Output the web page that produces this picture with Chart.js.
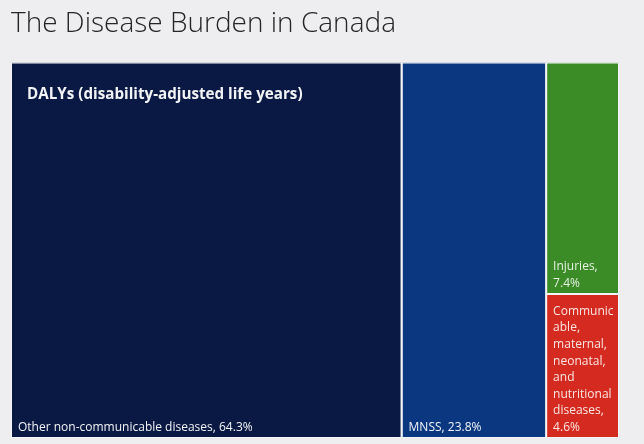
<!DOCTYPE html>
<html>
<head>
<meta charset="utf-8">
<script src="https://cdn.jsdelivr.net/npm/chart.js@4"></script>
<style>
  html, body { margin: 0; padding: 0; background: #eeeef0; }
  #wrap { width: 644px; height: 444px; }
</style>
</head>
<body>
<div id="wrap"><canvas id="chart-dalys"></canvas></div>
<script>
const categories = [
  "Other non-communicable diseases",
  "MNSS",
  "Injuries",
  "Communicable, maternal, neonatal, and nutritional diseases"
];
const values = [64.3, 23.8, 7.4, 4.6];
const columnOf = [0, 1, 2, 2];
const cellColors = ["#0a1943", "#0b3781", "#3b8b26", "#d42a1f"];
const cellLabels = [
  ["Other non-communicable diseases, 64.3%"],
  ["MNSS, 23.8%"],
  ["Injuries,", "7.4%"],
  ["Communic", "able,", "maternal,", "neonatal,", "and", "nutritional", "diseases,", "4.6%"]
];

// slice the area into columns, then stack cells inside each column
const colTotals = [];
columnOf.forEach((c, i) => { colTotals[c] = (colTotals[c] || 0) + values[i]; });
const total = colTotals.reduce((a, b) => a + b, 0);
const colStart = [];
colTotals.reduce((acc, v, c) => { colStart[c] = acc; return acc + v; }, 0);
const used = colTotals.map(() => 0);

const cells = values.map((v, i) => {
  const c = columnOf[i];
  const y0 = used[c] / colTotals[c];
  used[c] += v;
  const y1 = used[c] / colTotals[c];
  return { x0: colStart[c], x1: colStart[c] + colTotals[c], y0, y1 };
});

const datasets = cells.map((r, i) => ({
  label: categories[i],
  data: [
    { x: r.x0, y: r.y0 }, { x: r.x1, y: r.y0 },
    { x: r.x1, y: r.y1 }, { x: r.x0, y: r.y1 }, { x: r.x0, y: r.y0 }
  ],
  backgroundColor: cellColors[i],
  borderColor: "#f4f5f8",
  borderWidth: 2,
  fill: "shape",
  pointRadius: 0,
  tension: 0
}));

const cellText = {
  id: "cellText",
  afterDatasetsDraw(chart) {
    const { ctx, scales: { x, y }, chartArea } = chart;
    ctx.save();
    ctx.fillStyle = "rgba(255,255,255,0.95)";
    ctx.textBaseline = "alphabetic";
    ctx.font = "bold 15.2px 'Open Sans', sans-serif";
    ctx.fillText("DALYs (disability-adjusted life years)", chartArea.left + 16, chartArea.top + 36);

    ctx.font = "12px 'Open Sans', sans-serif";
    cells.forEach((r, i) => {
      const left = x.getPixelForValue(r.x0) + 7;
      const bottom = y.getPixelForValue(r.y1) - 7;
      const lines = cellLabels[i];
      ctx.fillStyle = i >= 2 ? "rgba(255,255,255,0.88)" : "rgba(255,255,255,0.95)";
      lines.forEach((t, k) => {
        ctx.fillText(t, left, bottom - (lines.length - 1 - k) * 16.6);
      });
    });
    ctx.restore();
  }
};

new Chart(document.getElementById("chart-dalys").getContext("2d"), {
  type: "line",
  data: { datasets },
  options: {
    responsive: true,
    maintainAspectRatio: false,
    animation: false,
    layout: { padding: { left: 11, right: 25, top: 0, bottom: 6 } },
    scales: {
      x: { type: "linear", display: false, min: 0, max: total },
      y: { type: "linear", display: false, min: 0, max: 1, reverse: true }
    },
    plugins: {
      legend: { display: false },
      tooltip: { enabled: false },
      title: {
        display: true,
        text: "The Disease Burden in Canada",
        align: "start",
        color: "#262626",
        font: { family: "'Open Sans', sans-serif", size: 28, weight: 300 },
        padding: { top: 7, bottom: 22 }
      }
    }
  },
  plugins: [cellText]
});
</script>
</body>
</html>
